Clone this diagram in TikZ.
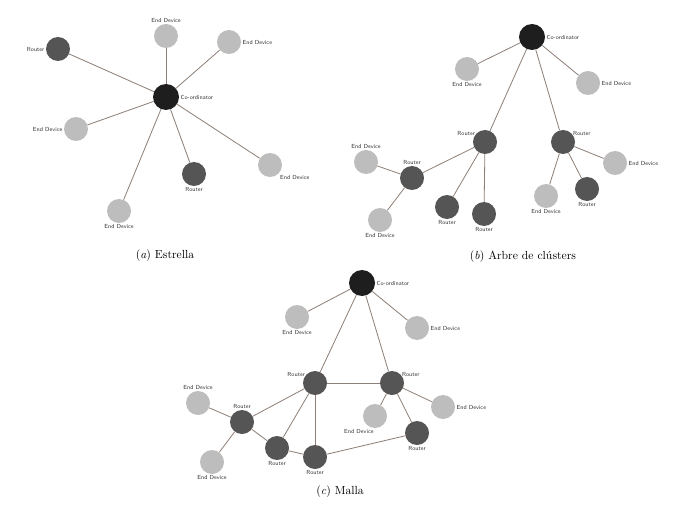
\documentclass[tikz,border=0pt]{standalone}
\usepackage{tikz}
\usetikzlibrary{positioning}

\definecolor{coordc}{HTML}{1E1E1E}
\definecolor{routc}{HTML}{555555}
\definecolor{devc}{HTML}{BDBDBD}
\definecolor{linkc}{HTML}{8E8078}

\begin{document}
\begin{tikzpicture}[
  x=0.03cm, y=-0.03cm,
  coord/.style = {circle, fill=coordc, minimum size=0.78cm, inner sep=0pt},
  rout/.style  = {circle, fill=routc, minimum size=0.72cm, inner sep=0pt},
  dev/.style   = {circle, fill=devc, minimum size=0.72cm, inner sep=0pt},
  lbl/.style   = {font=\sffamily\fontsize{5}{6}\selectfont, text=black!80,
                  inner sep=1pt},
  every label/.style = {lbl},
  link/.style  = {draw=linkc, line width=0.7pt},
  capt/.style  = {font=\normalsize},
]
\useasboundingbox (0,0) rectangle (680,513);

% (a) Estrella
\node[coord, label=right:Co-ordinator] (coA) at (166,97) {};
\node[rout, label=left:Router] (rA1) at (58,49) {};
\node[dev, label=above:End Device] (eA1) at (166,36) {};
\node[dev, label=right:End Device] (eA2) at (229,42) {};
\node[dev, label=left:End Device] (eA3) at (76,129) {};
\node[rout, label=below:Router] (rA2) at (194,174) {};
\node[dev, label={[anchor=north west]south east:End Device}] (eA4) at (270,165) {};
\node[dev, label=below:End Device] (eA5) at (119,211) {};
\foreach \n in {rA1,eA1,eA2,eA3,rA2,eA4,eA5}
  \draw[link] (coA) -- (\n);
\node[capt] (capA) at (165,256) {(\textit{a}) Estrella};

% (b) Arbre de clusters
\node[coord, label=right:Co-ordinator] (coB) at (532,37) {};
\node[dev, label=below:End Device] (eB1) at (467,69) {};
\node[dev, label=right:End Device] (eB2) at (588,83) {};
\node[rout, label={[anchor=east]north west:Router}] (rB1) at (485,142) {};
\node[rout, label={[anchor=west]north east:Router}] (rB2) at (563,142) {};
\node[rout, label=above:Router] (rB3) at (412,178) {};
\node[dev, label=above:End Device] (eB3) at (366,162) {};
\node[dev, label=below:End Device] (eB4) at (380,220) {};
\node[rout, label=below:Router] (rB4) at (447,207) {};
\node[rout, label=below:Router] (rB5) at (484,214) {};
\node[dev, label=right:End Device] (eB5) at (615,163) {};
\node[dev, label=below:End Device] (eB6) at (546,196) {};
\node[rout, label=below:Router] (rB6) at (587,189) {};
\foreach \a/\b in {coB/eB1,coB/eB2,coB/rB1,coB/rB2,rB1/rB3,rB1/rB4,rB1/rB5,
                   rB3/eB3,rB3/eB4,rB2/eB5,rB2/eB6,rB2/rB6}
  \draw[link] (\a) -- (\b);
\node[capt] (capB) at (523,257) {(\textit{b}) Arbre de clústers};

% (c) Malla
\node[coord, label=right:Co-ordinator] (coC) at (362,283) {};
\node[dev, label=below:End Device] (eC1) at (297,317) {};
\node[dev, label=right:End Device] (eC2) at (417,328) {};
\node[rout, label={[anchor=east]north west:Router}] (rC1) at (315,383) {};
\node[rout, label={[anchor=west]north east:Router}] (rC2) at (392,383) {};
\node[rout, label=above:Router] (rC3) at (242,422) {};
\node[dev, label=above:End Device] (eC3) at (198,403) {};
\node[dev, label=below:End Device] (eC4) at (212,462) {};
\node[rout, label=below:Router] (rC4) at (277,448) {};
\node[rout, label=below:Router] (rC5) at (315,457) {};
\node[dev, label={[anchor=north east]below:End Device}] (eC5) at (375,416) {};
\node[dev, label=right:End Device] (eC6) at (443,407) {};
\node[rout, label=below:Router] (rC6) at (417,433) {};
\foreach \a/\b in {coC/eC1,coC/eC2,coC/rC1,coC/rC2,rC1/rC2,rC1/rC3,rC1/rC4,
                   rC1/rC5,rC3/eC3,rC3/eC4,rC3/rC4,rC4/rC5,rC5/rC6,rC2/eC5,
                   rC2/eC6,rC2/rC6}
  \draw[link] (\a) -- (\b);
\node[capt] (capC) at (340,492) {(\textit{c}) Malla};

\end{tikzpicture}
\end{document}
